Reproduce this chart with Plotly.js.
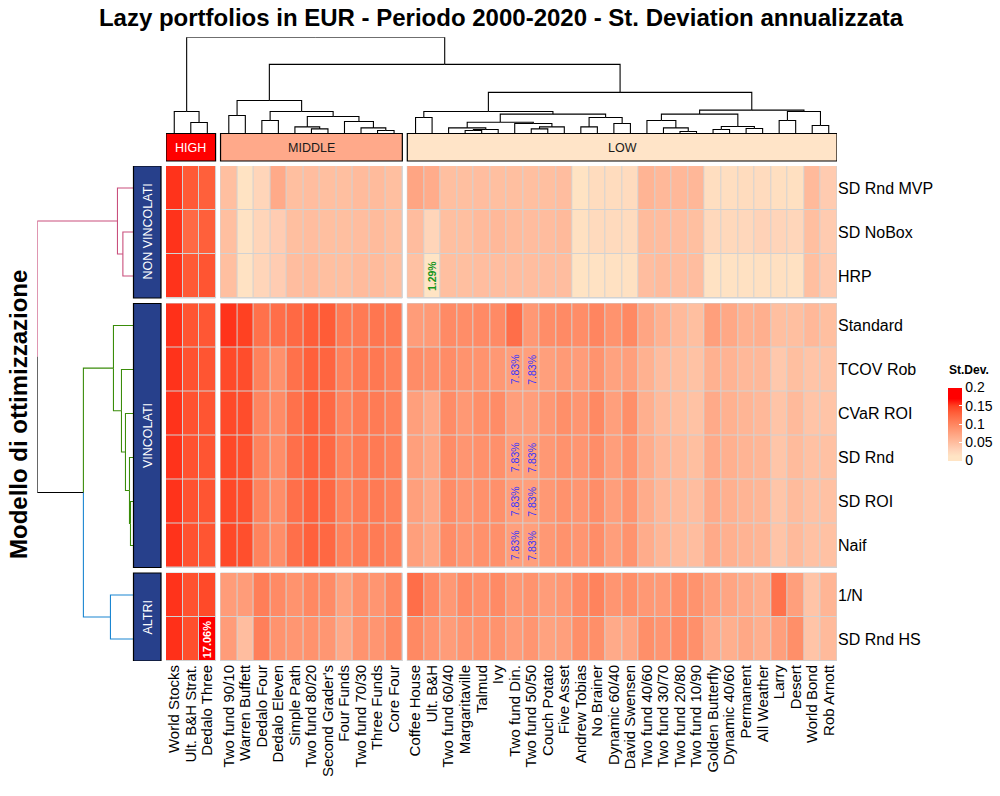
<!DOCTYPE html>
<html><head><meta charset="utf-8">
<script src="https://cdn.plot.ly/plotly-3.0.1.min.js"></script>
<style>html,body{margin:0;padding:0;background:#fff}#chart{width:1000px;height:796px}</style>
</head><body><div id="chart"></div>
<script>
// ---------------- DATA ----------------
const colLabels = ['World Stocks','Ult. B&H Strat.','Dedalo Three',
  'Two fund 90/10','Warren Buffett','Dedalo Four','Dedalo Eleven','Simple Path','Two fund 80/20',"Second Grader's",'Four Funds','Two fund 70/30','Three Funds','Core Four',
  'Coffee House','Ult. B&H','Two fund 60/40','Margaritaville','Talmud','Ivy','Two fund Din.','Two fund 50/50','Couch Potato','Five Asset','Andrew Tobias','No Brainer','Dynamic 60/40','David Swensen','Two fund 40/60','Two fund 30/70','Two fund 20/80','Two fund 10/90','Golden Butterfly','Dynamic 40/60','Permanent','All Weather','Larry','Desert','World Bond','Rob Arnott'];
const colGroupNames = ['HIGH','MIDDLE','LOW'];
const colGroupSizes = [3, 11, 26];
const rowLabels = ['SD Rnd MVP','SD NoBox','HRP','Standard','TCOV Rob','CVaR ROI','SD Rnd','SD ROI','Naif','1/N','SD Rnd HS'];
const rowGroupNames = ['NON VINCOLATI','VINCOLATI','ALTRI'];
const rowGroupSizes = [3, 6, 2];
const legendTicks = [0, 0.05, 0.1, 0.15, 0.2];

// annualised standard deviation, columns in display order (HIGH | MIDDLE | LOW)
const sdRndMVP = [0.155,0.135,0.131, 0.049,0.014,0.028,0.068,0.049,0.050,0.049,0.049,0.052,0.052,0.049,
  0.073,0.066,0.049,0.049,0.050,0.049,0.049,0.049,0.049,0.050,0.014,0.021,0.021,0.022,0.059,0.055,0.055,0.056,0.019,0.019,0.021,0.022,0.018,0.017,0.053,0.037];
const sdNoBox = [0.155,0.124,0.131, 0.049,0.015,0.028,0.036,0.049,0.050,0.049,0.049,0.050,0.052,0.049,
  0.051,0.028,0.049,0.049,0.053,0.055,0.052,0.051,0.051,0.053,0.017,0.023,0.023,0.022,0.052,0.051,0.050,0.049,0.025,0.025,0.026,0.031,0.029,0.027,0.049,0.037];
const hrp = [0.155,0.135,0.138, 0.049,0.015,0.028,0.036,0.050,0.052,0.049,0.049,0.052,0.052,0.049,
  0.047,0.0129,0.049,0.049,0.050,0.050,0.050,0.050,0.050,0.050,0.014,0.015,0.016,0.016,0.050,0.052,0.050,0.050,0.015,0.015,0.016,0.017,0.017,0.016,0.049,0.038];
const standard = [0.156,0.138,0.137, 0.155,0.151,0.118,0.120,0.124,0.133,0.134,0.111,0.111,0.114,0.111,
  0.081,0.083,0.097,0.094,0.097,0.097,0.120,0.085,0.094,0.097,0.094,0.101,0.089,0.098,0.073,0.062,0.053,0.049,0.078,0.070,0.062,0.064,0.049,0.049,0.055,0.049];
const tcovRob = [0.155,0.140,0.138, 0.145,0.143,0.105,0.092,0.118,0.131,0.127,0.104,0.112,0.112,0.105,
  0.095,0.092,0.095,0.089,0.089,0.085,0.0783,0.0783,0.078,0.083,0.081,0.089,0.076,0.078,0.062,0.051,0.049,0.046,0.062,0.060,0.055,0.055,0.040,0.049,0.044,0.044];
const cvarROI = [0.155,0.140,0.138, 0.145,0.143,0.102,0.096,0.118,0.131,0.124,0.102,0.110,0.110,0.104,
  0.078,0.068,0.095,0.085,0.093,0.095,0.079,0.079,0.085,0.093,0.087,0.098,0.078,0.093,0.064,0.053,0.049,0.046,0.068,0.062,0.058,0.055,0.044,0.053,0.044,0.044];
const sdRnd = [0.155,0.140,0.138, 0.146,0.142,0.104,0.094,0.119,0.130,0.125,0.103,0.111,0.111,0.105,
  0.078,0.070,0.095,0.087,0.091,0.092,0.0783,0.0783,0.085,0.090,0.087,0.094,0.079,0.089,0.066,0.056,0.052,0.049,0.068,0.063,0.059,0.057,0.043,0.052,0.047,0.047];
const sdROI = [0.155,0.140,0.138, 0.146,0.142,0.104,0.094,0.119,0.130,0.125,0.103,0.110,0.111,0.105,
  0.078,0.069,0.095,0.087,0.091,0.092,0.0783,0.0783,0.085,0.090,0.087,0.094,0.079,0.089,0.066,0.056,0.052,0.050,0.068,0.063,0.059,0.057,0.043,0.052,0.047,0.047];
const naif = [0.155,0.140,0.138, 0.146,0.142,0.103,0.094,0.119,0.130,0.125,0.103,0.110,0.110,0.105,
  0.078,0.070,0.095,0.087,0.091,0.092,0.0783,0.0783,0.085,0.090,0.087,0.094,0.079,0.089,0.066,0.057,0.052,0.050,0.068,0.063,0.060,0.058,0.044,0.053,0.047,0.047];
const oneOverN = [0.155,0.140,0.145, 0.081,0.081,0.107,0.097,0.089,0.099,0.096,0.076,0.092,0.087,0.099,
  0.120,0.097,0.085,0.097,0.092,0.097,0.085,0.089,0.081,0.085,0.097,0.103,0.087,0.093,0.085,0.083,0.092,0.089,0.078,0.073,0.068,0.064,0.117,0.078,0.044,0.058];
const sdRndHS = [0.156,0.142,0.1706, 0.081,0.050,0.106,0.089,0.086,0.090,0.086,0.069,0.089,0.087,0.098,
  0.098,0.087,0.081,0.087,0.089,0.089,0.081,0.087,0.076,0.078,0.093,0.093,0.068,0.073,0.093,0.087,0.095,0.092,0.068,0.064,0.070,0.064,0.078,0.093,0.044,0.053];

// highlighted values (min, max, median)
const minValue = 0.0129, maxValue = 0.1706, medianValue = 0.0783;

// dendrograms: [left, right, height], leaves = display index
const highTree = [0, [1, 2, 11], 22];
const middleTree = [[3, 4, 18], [[5, 6, 13], [[7, [8, 9, 4.6], 6.6], [10, [11, [12, 13, 3], 5.6], 12], 17], 22], 33];
const lowLeftTree = [[14, 15, 16], [[[16, [[17, 18, 3], 19, 4], 5.6], [20, [[21, 22, 4.6], 23, 6.6], 10], 11.3], [[24, 25, 6.6], [26, 27, 10], 16], 19.3], 22];
const lowRightTree = [[[28, [29, [30, 31, 2], 5.6], 13], [[32, 33, 4], [34, 35, 5], 7], 19.3], [[36, 37, 13], [38, 39, 8], 22], 23.3];
const colTree = [highTree, [middleTree, [lowLeftTree, lowRightTree, 41], 69], 96];
const rowTree = [[0, [1, 2, 10.6], 16], [[3, [4, [5, [6, [7, 8, 3], 4], 8], 12], 20], [9, 10, 23], 50], 96];

// ---------------- LAYOUT HELPERS ----------------
const W = 1000, H = 796;
const px = v => v / W, py = v => 1 - v / H;
const FONT = 'Liberation Sans, Arial, sans-serif';
const colGap = 0.3, rowGap = 0.125;
function positions(sizes, gap) {
  const pos = []; let k = 0;
  sizes.forEach((n, g) => { for (let i = 0; i < n; i++) pos.push(k + i + g * gap); k += n; });
  return pos;
}
function groupRanges(sizes) { const r = []; let s = 0; sizes.forEach(n => { r.push([s, s + n - 1]); s += n; }); return r; }
const xpos = positions(colGroupSizes, colGap);
const ypos = positions(rowGroupSizes, rowGap);
const colRanges = groupRanges(colGroupSizes);
const rowRanges = groupRanges(rowGroupSizes);
const Z = [sdRndMVP, sdNoBox, hrp, standard, tcovRob, cvarROI, sdRnd, sdROI, naif, oneOverN, sdRndHS];

const xMin = -0.5, xMax = xpos[xpos.length - 1] + 0.5;
const yMin = -0.5, yMax = ypos[ypos.length - 1] + 0.5;

// colour ramp (Lab interpolation bisque -> red between min and max), axis 0..0.2
const cmax = 0.2;
const rampCols = ['#FFE4C4','#FFD0B6','#FFBB9C','#FFA684','#FF906B','#FF7953','#FF603B','#FF4122','#FF0000'];
const colorscale = [[0, '#FFE4C4']];
rampCols.forEach((c, i) => colorscale.push([(minValue + (maxValue - minValue) * i / 8) / cmax, c]));
colorscale.push([1, '#FF0000']);

const traces = [];
const shapes = [];
const annotations = [];

rowRanges.forEach((rr, rg) => {
  colRanges.forEach((cr, cg) => {
    const z = [];
    for (let r = rr[0]; r <= rr[1]; r++) z.push(Z[r].slice(cr[0], cr[1] + 1));
    traces.push({
      type: 'heatmap', x: xpos.slice(cr[0], cr[1] + 1), y: ypos.slice(rr[0], rr[1] + 1), z: z,
      coloraxis: 'coloraxis', xgap: 1, ygap: 1, hoverinfo: 'skip', xaxis: 'x', yaxis: 'y'
    });
    shapes.push({ type: 'rect', xref: 'x', yref: 'y', layer: 'below',
      x0: xpos[cr[0]] - 0.5, x1: xpos[cr[1]] + 0.5, y0: ypos[rr[0]] - 0.5, y1: ypos[rr[1]] + 0.5,
      fillcolor: '#D2D2D2', line: { color: '#D2D2D2', width: 1 } });
  });
});

// column group annotation bar
const colGroupFill = ['#FF0000', '#FFA98A', '#FFE4C8'];
const colGroupText = ['#FFFFFF', '#1a1a1a', '#1a1a1a'];
colRanges.forEach((cr, g) => {
  const x0 = xpos[cr[0]] - 0.5, x1 = xpos[cr[1]] + 0.5;
  shapes.push({ type: 'rect', xref: 'x', yref: 'paper', x0, x1, y0: py(161), y1: py(133.5),
    fillcolor: colGroupFill[g], line: { color: '#000', width: 1.2 } });
  annotations.push({ xref: 'x', yref: 'paper', x: (x0 + x1) / 2, y: py(147.5), xanchor: 'center', yanchor: 'middle',
    text: colGroupNames[g], showarrow: false, font: { family: FONT, size: 12.5, color: colGroupText[g] } });
});
// row group annotation bar
rowRanges.forEach((rr, g) => {
  const y0 = ypos[rr[0]] - 0.5, y1 = ypos[rr[1]] + 0.5;
  shapes.push({ type: 'rect', xref: 'paper', yref: 'y', x0: px(133.5), x1: px(161), y0, y1,
    fillcolor: '#27408B', line: { color: '#000', width: 1.2 } });
  annotations.push({ xref: 'paper', yref: 'y', x: px(147.5), y: (y0 + y1) / 2, xanchor: 'center', yanchor: 'middle',
    text: rowGroupNames[g], textangle: -90, showarrow: false, font: { family: FONT, size: 12.5, color: '#FFFFFF' } });
});

// cell labels
Z.forEach((row, r) => row.forEach((v, c) => {
  let color = null, txt = (v * 100).toFixed(2) + '%', size = 10.5;
  if (v === minValue) { color = '#16961C'; txt = '<b>' + txt + '</b>'; }
  else if (v === maxValue) { color = '#FFFFFF'; txt = '<b>' + txt + '</b>'; size = 11; }
  else if (v === medianValue) { color = '#3434FF'; }
  if (color) annotations.push({ xref: 'x', yref: 'y', x: xpos[c], y: ypos[r], xanchor: 'center', yanchor: 'middle',
    text: txt, textangle: -90, showarrow: false, font: { family: FONT, size, color } });
}));

// dendrograms
function layoutTree(node, leafPos, colorOf, segs) {
  if (typeof node === 'number') return { p: leafPos[node], h: 0, color: colorOf(node) };
  const a = layoutTree(node[0], leafPos, colorOf, segs), b = layoutTree(node[1], leafPos, colorOf, segs);
  const h = node[2], mid = (a.p + b.p) / 2;
  segs.push({ color: a.color, pts: [[a.p, a.h], [a.p, h], [mid, h]] });
  segs.push({ color: b.color, pts: [[b.p, b.h], [b.p, h], [mid, h]] });
  return { p: mid, h, color: a.color === b.color ? a.color : '#000000' };
}
function segTraces(segs, swap, xaxis, yaxis) {
  const byColor = {};
  segs.forEach(s => {
    const t = byColor[s.color] || (byColor[s.color] = { x: [], y: [] });
    s.pts.forEach(p => { t.x.push(swap ? p[1] : p[0]); t.y.push(swap ? p[0] : p[1]); });
    t.x.push(null); t.y.push(null);
  });
  return Object.keys(byColor).map(c => ({ type: 'scatter', mode: 'lines', x: byColor[c].x, y: byColor[c].y,
    xaxis, yaxis, line: { color: c, width: 1.1 }, hoverinfo: 'skip', showlegend: false }));
}
const colSegs = [];
layoutTree(colTree, xpos, () => '#000000', colSegs);
traces.push(...segTraces(colSegs, false, 'x', 'y2'));

const rowGroupColors = ['#C94F7C', '#3A8C0A', '#1B86D1'];
const rowGroupOf = [];
rowGroupSizes.forEach((n, g) => { for (let i = 0; i < n; i++) rowGroupOf.push(g); });
const rowSegs = [];
layoutTree(rowTree, ypos, i => rowGroupColors[rowGroupOf[i]], rowSegs);
traces.push(...segTraces(rowSegs, true, 'x3', 'y'));

// axis title and legend title
annotations.push({ xref: 'paper', yref: 'paper', x: px(19), y: py(415), xanchor: 'center', yanchor: 'middle',
  text: '<b>Modello di ottimizzazione</b>', textangle: -90, showarrow: false,
  font: { family: FONT, size: 24, color: '#000' } });
annotations.push({ xref: 'paper', yref: 'paper', x: px(947), y: py(370), xanchor: 'left', yanchor: 'middle',
  text: '<b>St.Dev.</b>', showarrow: false, font: { family: FONT, size: 12, color: '#000' } });

const layout = {
  width: W, height: H, margin: { l: 0, r: 0, t: 0, b: 0 },
  paper_bgcolor: '#FFFFFF', plot_bgcolor: '#FFFFFF', showlegend: false,
  font: { family: FONT, color: '#000' },
  title: { text: '<b>Lazy portfolios in EUR - Periodo 2000-2020 - St. Deviation annualizzata</b>',
    x: 0.501, xanchor: 'center', y: py(18), yanchor: 'middle', font: { family: FONT, size: 24, color: '#000' } },
  xaxis: { domain: [px(166), px(837)], range: [xMin, xMax], anchor: 'y', tickvals: xpos, ticktext: colLabels,
    tickangle: -90, ticks: '', showgrid: false, zeroline: false, showline: false, fixedrange: true,
    tickfont: { family: FONT, size: 15, color: '#000' } },
  yaxis: { domain: [py(661), py(166)], range: [yMax, yMin], anchor: 'x', side: 'right', tickvals: ypos, ticktext: rowLabels,
    ticks: '', showgrid: false, zeroline: false, showline: false, fixedrange: true,
    tickfont: { family: FONT, size: 16, color: '#000' } },
  yaxis2: { domain: [py(133.5), py(37.3)], range: [0, 96], anchor: 'x', visible: false, fixedrange: true },
  xaxis3: { domain: [px(37.3), px(133.5)], range: [96, 0], anchor: 'y', visible: false, fixedrange: true },
  coloraxis: { cmin: 0, cmax: cmax, colorscale: colorscale,
    colorbar: { x: px(948), xanchor: 'left', y: py(424), yanchor: 'middle', len: 73, lenmode: 'pixels',
      thickness: 14, xpad: 0, ypad: 0, outlinewidth: 0, ticks: 'inside', ticklen: 3, tickcolor: '#FFFFFF',
      tickvals: legendTicks, ticktext: legendTicks.map(String),
      tickfont: { family: FONT, size: 14, color: '#000' } } },
  shapes, annotations
};
Plotly.newPlot('chart', traces, layout, { staticPlot: true, displayModeBar: false });
</script>
</body></html>
